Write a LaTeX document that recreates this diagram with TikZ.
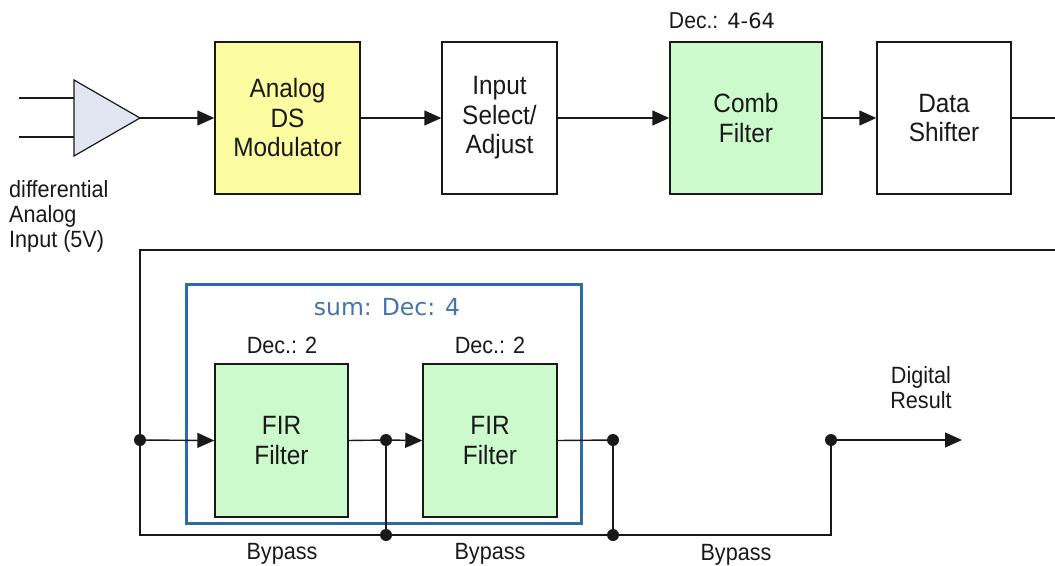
\documentclass[tikz,border=0pt]{standalone}
\usepackage{fontspec}
\setmainfont{Liberation Sans}[FakeStretch=0.92]
\newfontfamily\dvsans{DejaVu Sans}
\usetikzlibrary{arrows.meta}

\definecolor{modyellow}{RGB}{252,252,160}
\definecolor{filtgreen}{RGB}{204,250,204}
\definecolor{ampfill}{RGB}{226,230,242}
\definecolor{grpblue}{RGB}{46,108,168}
\definecolor{sumtext}{RGB}{70,116,168}
\definecolor{ink}{RGB}{25,25,25}

\begin{document}
\begin{tikzpicture}[x=1pt,y=-1pt,
  wire/.style={draw=ink, line width=1.4pt},
  flow/.style={wire, -{Triangle[length=17pt,width=15pt]}},
  blockbox/.style={draw=ink, line width=1.4pt, inner sep=0pt, align=center,
    text=ink, font=\fontsize{26.5}{29.5}\selectfont},
  lbl/.style={inner sep=0pt, text=ink, font=\fontsize{23.5}{25}\selectfont},
  dot/.style={circle, fill=ink, inner sep=0pt, minimum size=12pt}
]
\useasboundingbox (0,0) rectangle (1055,565);

% ---- differential input amplifier ----
\coordinate (amp) at (140,118);
\coordinate (inA) at (19,98);
\coordinate (inB) at (19,137);
\filldraw[fill=ampfill, draw=ink, line width=1.2pt] (74,80) -- (74,156) -- (amp) -- cycle;
\draw[wire] (inA) -- (74,98);
\draw[wire] (inB) -- (74,137);
\node[lbl, align=left, anchor=north west] (inlbl) at (9,180)
  {differential\\Analog\\Input (5V)};

% ---- upper signal chain ----
\node[blockbox, fill=modyellow, minimum width=145pt, minimum height=152pt] (mod) at (287.5,118)
  {Analog\\DS\\Modulator};
\node[blockbox, fill=white, minimum width=115pt, minimum height=152pt] (sel) at (499.5,118)
  {Input\\Select/\\Adjust};
\node[blockbox, fill=filtgreen, minimum width=152pt, minimum height=152pt] (comb) at (746,118)
  {Comb\\Filter};
\node[blockbox, fill=white, minimum width=134pt, minimum height=152pt] (shift) at (944,118)
  {Data\\Shifter};
\node[inner sep=0pt, text=ink, anchor=base, font=\fontsize{23}{25}\selectfont] (combdec) at (722,28)
  {Dec.:\hspace{9pt}{\dvsans\fontsize{21}{25}\selectfont 4-64}};

\coordinate (outR) at (1055,118);
\draw[flow] (amp) -- (mod.west);
\draw[flow] (mod.east) -- (sel.west);
\draw[flow] (sel.east) -- (comb.west);
\draw[flow] (comb.east) -- (shift.west);
\draw[wire] (shift.east) -- (outR);

% ---- two-stage FIR group ----
\node[draw=grpblue, line width=3pt, minimum width=395pt, minimum height=239pt, inner sep=0pt]
  (grp) at (383.5,403.5) {};
\node[inner sep=0pt, anchor=base, text=sumtext, font=\dvsans\fontsize{23.5}{28}\selectfont]
  (sumlbl) at (387,315) {sum: Dec: 4};

\node[blockbox, fill=filtgreen, minimum width=133pt, minimum height=153pt] (fir1) at (281.5,440.5)
  {FIR\\Filter};
\node[blockbox, fill=filtgreen, minimum width=134pt, minimum height=153pt] (fir2) at (490,440.5)
  {FIR\\Filter};
\node[lbl, anchor=base] (dec1) at (282,353) {Dec.: 2};
\node[lbl, anchor=base] (dec2) at (490,353) {Dec.: 2};

% ---- feedback run and bypass network ----
\coordinate (retR) at (1055,250);
\coordinate (retL) at (140,250);
\coordinate (j0) at (140,440);
\coordinate (bl) at (140,535);
\coordinate (j1) at (386,440);
\coordinate (b1) at (386,535);
\coordinate (j2) at (613,440);
\coordinate (b2) at (613,535);
\coordinate (br) at (831,535);
\coordinate (j3) at (831,440);
\coordinate (res) at (962,440);

\draw[wire] (retR) -- (retL) -- (j0) -- (bl) -- (br) -- (j3);
\draw[flow] (j0) -- (fir1.west);
\draw[wire] (fir1.east) -- (j1);
\draw[flow] (j1) -- (fir2.west);
\draw[wire] (fir2.east) -- (j2);
\draw[wire] (j1) -- (b1);
\draw[wire] (j2) -- (b2);
\draw[flow] (j3) -- (res);

\foreach \p in {j0,j1,b1,j2,b2,j3} \node[dot] at (\p) {};

\node[lbl, anchor=base] (byp1) at (282,559) {Bypass};
\node[lbl, anchor=base] (byp2) at (490,559) {Bypass};
\node[lbl, anchor=base] (byp3) at (736,560) {Bypass};
\node[lbl, align=center, anchor=north] (reslbl) at (921,366) {Digital\\Result};
\end{tikzpicture}
\end{document}
